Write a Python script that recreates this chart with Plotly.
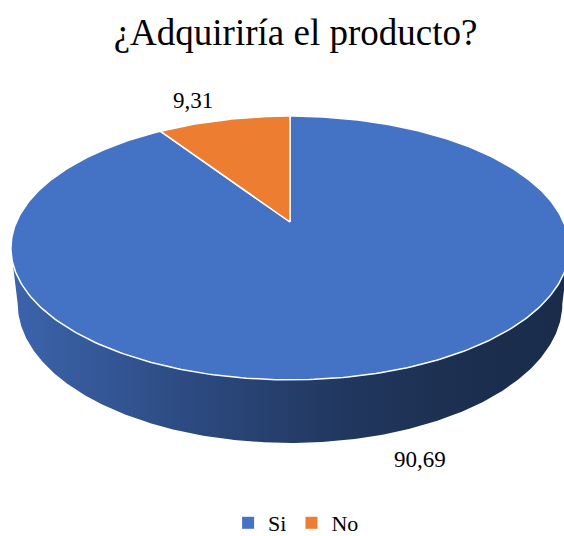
import numpy as np
import plotly.graph_objects as go

# Survey answers
categories = ["Si", "No"]
values = [90.69, 9.31]
colors = ["#4472C4", "#ED7D31"]
title_text = "¿Adquiriría el producto?"

W, H = 564, 536
SERIF = "Liberation Serif"

# Perspective camera for the tilted disc (screen units are pixels)
ELEV = np.radians(27.6)
DIST = 4.498
FOCAL = 1230.7
THICK = 0.2304
CX, CY = 290.0, 222.0
COS_E, SIN_E = np.cos(ELEV), np.sin(ELEV)


def project(theta, z, r=1.0):
    """theta: clockwise angle from 12 o'clock (radians); z: height of the rim."""
    X = r * np.sin(theta)
    Y = r * np.cos(theta)
    d = DIST + Y * COS_E - z * SIN_E
    sx = FOCAL * X / d
    sy = FOCAL * (Y * SIN_E + z * COS_E) / d
    return CX + sx, CY - sy


def shade(hex_color, k):
    h = hex_color.lstrip("#")
    rgb = [int(h[i:i + 2], 16) for i in (0, 2, 4)]
    return "rgb({},{},{})".format(*[int(round(v * k)) for v in rgb])


total = float(sum(values))
bounds = np.concatenate([[0.0], np.cumsum(values) / total * 2 * np.pi])

# Visible part of the cylinder wall: between the silhouette angles
dense = np.linspace(0, 2 * np.pi, 7201)
top_x, _ = project(dense, 0.0)
bot_x, _ = project(dense, -THICK)
vis_top = (dense[np.argmax(top_x)], dense[np.argmin(top_x)])
vis_bot = (dense[np.argmax(bot_x)], dense[np.argmin(bot_x)])

fig = go.Figure()

# Side walls, shaded from left to right
side_steps = [0.0, 0.2, 0.4, 0.6, 0.8, 1.0]
side_k = [0.88, 0.74, 0.60, 0.48, 0.41, 0.38]
for i, col in enumerate(colors):
    a0, a1 = bounds[i], bounds[i + 1]
    t0, t1 = max(a0, vis_top[0]), min(a1, vis_top[1])
    b0, b1 = max(a0, vis_bot[0]), min(a1, vis_bot[1])
    if t1 <= t0 or b1 <= b0:
        continue
    tt = np.linspace(t0, t1, 300)
    bb = np.linspace(b1, b0, 300)
    xt, yt = project(tt, 0.0)
    xb, yb = project(bb, -THICK)
    fig.add_trace(go.Scatter(
        x=np.concatenate([xt, xb, xt[:1]]),
        y=np.concatenate([yt, yb, yt[:1]]),
        mode="lines", fill="toself",
        line=dict(width=0, color=shade(col, 0.5)),
        fillgradient=dict(
            type="horizontal",
            colorscale=[[p, shade(col, k)] for p, k in zip(side_steps, side_k)],
        ),
        hoverinfo="skip", showlegend=False,
    ))

# Top face slices
for i, (cat, col) in enumerate(zip(categories, colors)):
    tt = np.linspace(bounds[i], bounds[i + 1], 400)
    xs, ys = project(tt, 0.0)
    fig.add_trace(go.Scatter(
        x=np.concatenate([[CX], xs, [CX]]),
        y=np.concatenate([[CY], ys, [CY]]),
        mode="lines", fill="toself", fillcolor=col,
        line=dict(color="white", width=1.5),
        hoverinfo="skip", showlegend=False,
    ))

# Legend entries
for cat, col in zip(categories, colors):
    fig.add_trace(go.Scatter(
        x=[None], y=[None], mode="markers", name=cat,
        marker=dict(symbol="square", size=12, color=col),
    ))

# Data labels
label_shift = [(36, -25), (-31, 19)]
for i, v in enumerate(values):
    mid = (bounds[i] + bounds[i + 1]) / 2
    on_front = np.cos(mid) < 0
    lx, ly = project(mid, -THICK if on_front else 0.0)
    fig.add_annotation(
        x=float(lx), y=float(ly), xref="x", yref="y",
        text=f"{v:.2f}".replace(".", ","), showarrow=False,
        xanchor="center", yanchor="middle",
        xshift=label_shift[i][0], yshift=label_shift[i][1],
        font=dict(family=SERIF, size=23, color="#000000"),
    )

fig.update_layout(
    width=W, height=H, autosize=False,
    margin=dict(l=0, r=0, t=0, b=0, autoexpand=False),
    paper_bgcolor="white", plot_bgcolor="white",
    font=dict(family=SERIF, color="#000000"),
    title=dict(
        text=title_text, x=0.524, xanchor="center",
        y=1 - 32 / H, yanchor="middle", yref="container",
        font=dict(family=SERIF, size=37, color="#000000"),
    ),
    xaxis=dict(range=[0, W], visible=False, fixedrange=True),
    yaxis=dict(range=[H, 0], visible=False, fixedrange=True),
    legend=dict(
        orientation="h", x=0.525, xanchor="center",
        y=(H - 523) / H, yanchor="middle", yref="container",
        font=dict(family=SERIF, size=22, color="#000000"),
        bgcolor="rgba(0,0,0,0)",
    ),
    showlegend=True,
)

fig.write_html("out.html")
